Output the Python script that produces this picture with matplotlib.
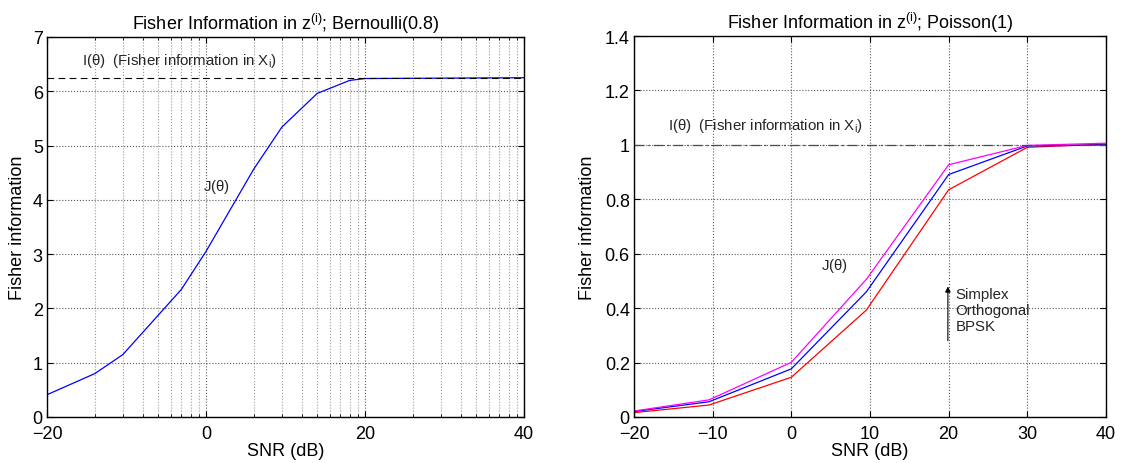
import matplotlib
matplotlib.use("Agg")
import matplotlib.pyplot as plt
import numpy as np
from matplotlib.ticker import FixedLocator, FixedFormatter, LogLocator, NullFormatter

plt.rcParams['font.family'] = ['Liberation Sans', 'DejaVu Sans']
plt.rcParams['mathtext.fontset'] = 'custom'
plt.rcParams['mathtext.rm'] = 'Liberation Sans'
plt.rcParams['mathtext.it'] = 'Liberation Sans'

# left panel: Bernoulli(0.8), SNR as amplitude ratio (log axis, labelled in dB)
snr_amp_left = [0.1, 0.2, 0.3, 0.7, 1, 2, 3, 5, 8, 10, 100]
J_bern = [0.41, 0.80, 1.15, 2.35, 3.05, 4.57, 5.34, 5.96, 6.20, 6.235, 6.25]
I_bern = 6.25

# right panel: Poisson(1)
snr_db_right = [-20, -10.46, 0, 9.54, 20, 30, 40]
J_simplex = [0.022, 0.063, 0.201, 0.506, 0.927, 0.998, 1.006]
J_orth = [0.020, 0.056, 0.177, 0.460, 0.891, 0.996, 1.000]
J_bpsk = [0.016, 0.044, 0.146, 0.393, 0.835, 0.991, 1.003]
I_pois = 1.0

fig = plt.figure(figsize=(11.36, 4.64), dpi=100)
ax1 = fig.add_axes([47/1136, 1-418/464, (524-47)/1136, (418-38)/464])
ax2 = fig.add_axes([634/1136, 1-418/464, (1106-634)/1136, (418-37)/464])

fs = 13
afs = 10.8

# ---- left
ax1.plot(snr_amp_left, J_bern, color='blue', lw=0.9)
ax1.axhline(I_bern, color='black', ls=(0, (6, 4)), lw=0.8)
ax1.set_xscale('log')
ax1.set_xlim(0.1, 100)
ax1.set_ylim(0, 7)
ax1.xaxis.set_major_locator(FixedLocator([0.1, 1, 10, 100]))
ax1.xaxis.set_major_formatter(FixedFormatter(['\u221220', '0', '20', '40']))
ax1.xaxis.set_minor_locator(LogLocator(base=10, subs=np.arange(2, 10)))
ax1.xaxis.set_minor_formatter(NullFormatter())
ax1.set_yticks(range(0, 8))
ax1.grid(True, which='major', color='0.35', ls=':', lw=0.8)
ax1.grid(True, which='minor', axis='x', color='0.6', ls=':', lw=0.8)
ax1.text(0.166, 6.58, r'I($\theta$)  (Fisher information in X$_\mathrm{i}$)', fontsize=afs,
         color='0.15', va='center')
ax1.text(0.957, 4.26, r'J($\theta$)', fontsize=afs, color='0.15', va='center')
ax1.set_title(r'Fisher Information in z$^{(\mathrm{i})}$; Bernoulli(0.8)', fontsize=fs, pad=6)
ax1.set_xlabel('SNR (dB)', fontsize=fs, labelpad=0)
ax1.set_ylabel('Fisher information', fontsize=fs, labelpad=5)

# ---- right
ax2.plot(snr_db_right, J_bpsk, color='red', lw=0.9)
ax2.plot(snr_db_right, J_orth, color='blue', lw=0.9)
ax2.plot(snr_db_right, J_simplex, color='magenta', lw=0.9)
ax2.axhline(I_pois, color='0.3', ls=(0, (8, 3, 1.5, 3)), lw=0.9)
ax2.set_xlim(-20, 40)
ax2.set_ylim(0, 1.4)
ax2.set_xticks(range(-20, 41, 10))
ax2.set_xticklabels(['\u221220', '\u221210', '0', '10', '20', '30', '40'])
ax2.set_yticks(np.arange(0, 1.41, 0.2))
ax2.set_yticklabels(['0', '0.2', '0.4', '0.6', '0.8', '1', '1.2', '1.4'])
ax2.grid(True, color='0.35', ls=':', lw=0.8)
ax2.text(-15.7, 1.074, r'I($\theta$)  (Fisher information in X$_\mathrm{i}$)', fontsize=afs,
         color='0.15', va='center')
ax2.text(3.8, 0.559, r'J($\theta$)', fontsize=afs, color='0.15', va='center')
ax2.annotate('', xy=(19.9, 0.49), xytext=(19.9, 0.27),
             arrowprops=dict(arrowstyle='-|>', color='black', lw=0.8, mutation_scale=8))
ax2.text(20.9, 0.478, 'Simplex\nOrthogonal\nBPSK', fontsize=afs, color='0.15',
         va='top', linespacing=1.2)
ax2.set_title(r'Fisher Information in z$^{(\mathrm{i})}$; Poisson(1)', fontsize=fs, pad=6)
ax2.set_xlabel('SNR (dB)', fontsize=fs, labelpad=0)
ax2.set_ylabel('Fisher information', fontsize=fs, labelpad=6)

for ax in (ax1, ax2):
    ax.tick_params(direction='in', top=True, right=True, labelsize=fs, length=4, pad=3)
    ax.tick_params(axis='x', pad=6)
    ax.tick_params(which='minor', direction='in', top=True, right=True, length=2)
    for s in ax.spines.values():
        s.set_linewidth(1.0)

fig.savefig('out.png', dpi=100)
